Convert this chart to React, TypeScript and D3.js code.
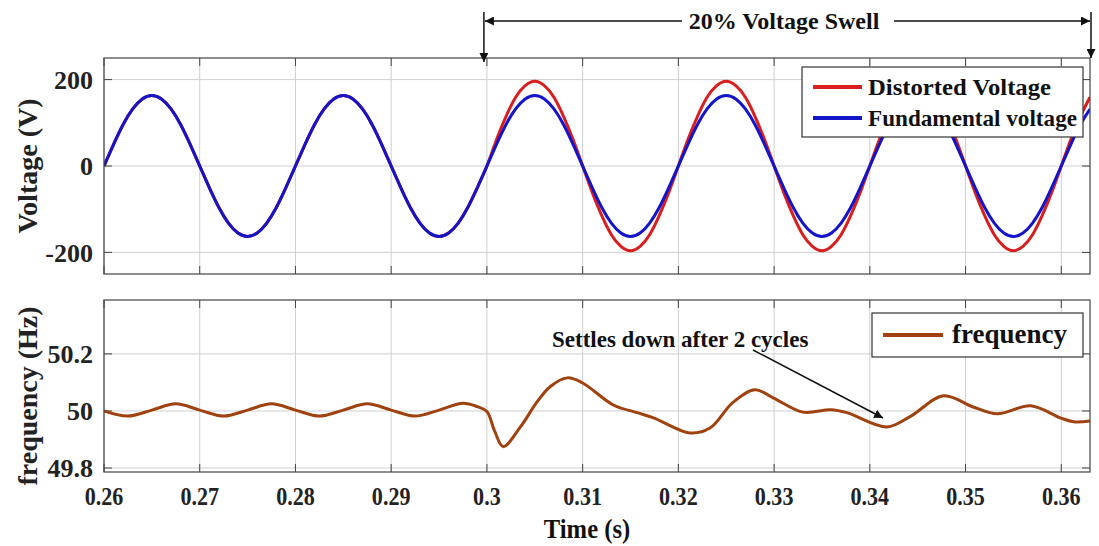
import React from 'react';
import * as d3 from 'd3';

// ---------- data ----------
const timeStart = 0.26;
const timeStep = 0.001;

// Fundamental voltage (V), sampled every 1 ms from 0.260 s
const fundamentalVoltage = [
  0, 50, 96, 132, 155, 163, 155, 132, 96, 50, 0, -50, -96, -132, -155, -163, -155, -132, -96, -50,
  0, 50, 96, 132, 155, 163, 155, 132, 96, 50, 0, -50, -96, -132, -155, -163, -155, -132, -96, -50,
  0, 50, 96, 132, 155, 163, 155, 132, 96, 50, 0, -50, -96, -132, -155, -163, -155, -132, -96, -50,
  0, 50, 96, 132, 155, 163, 155, 132, 96, 50, 0, -50, -96, -132, -155, -163, -155, -132, -96, -50,
  0, 50, 96, 132, 155, 163, 155, 132, 96, 50, 0, -50, -96, -132, -155, -163, -155, -132, -96, -50,
  0, 50, 96, 132,
];

// Distorted voltage (V), sampled every 1 ms from 0.260 s (swell from 0.30 s)
const distortedVoltage = [
  0, 50, 96, 132, 155, 163, 155, 132, 96, 50, 0, -50, -96, -132, -155, -163, -155, -132, -96, -50,
  0, 50, 96, 132, 155, 163, 155, 132, 96, 50, 0, -50, -96, -132, -155, -163, -155, -132, -96, -50,
  0, 61, 115, 159, 186, 196, 186, 159, 115, 61, 0, -61, -115, -159, -186, -196, -186, -159, -115, -61,
  0, 61, 115, 159, 186, 196, 186, 159, 115, 61, 0, -61, -115, -159, -186, -196, -186, -159, -115, -61,
  0, 61, 115, 159, 186, 196, 186, 159, 115, 61, 0, -61, -115, -159, -186, -196, -186, -159, -115, -61,
  0, 61, 115, 159,
];

const freqTime = [
  0.26, 0.2625, 0.265, 0.2675, 0.27, 0.2725, 0.275, 0.2775, 0.28, 0.2825, 0.285, 0.2875, 0.29,
  0.2925, 0.295, 0.2975, 0.299, 0.3, 0.3008, 0.3017, 0.3035, 0.3052, 0.3066, 0.3084, 0.31,
  0.3132, 0.3157, 0.3174, 0.3212, 0.3233, 0.3257, 0.328, 0.3299, 0.333, 0.3359, 0.3376, 0.3418,
  0.3442, 0.3477, 0.3508, 0.3533, 0.3568, 0.3599, 0.3613, 0.363,
];
const freqValue = [
  50.0, 49.982, 50.003, 50.025, 50.003, 49.982, 50.003, 50.025, 50.003, 49.982, 50.003, 50.025, 50.003,
  49.982, 50.003, 50.027, 50.015, 49.998, 49.93, 49.875, 49.944, 50.03, 50.085, 50.116, 50.098,
  50.021, 49.994, 49.976, 49.923, 49.94, 50.03, 50.074, 50.046, 49.996, 50.004, 49.994, 49.944,
  49.98, 50.053, 50.014, 49.99, 50.018, 49.976, 49.962, 49.965,
];

const xTicks = [0.26, 0.27, 0.28, 0.29, 0.3, 0.31, 0.32, 0.33, 0.34, 0.35, 0.36];
const xTickLabels = ['0.26', '0.27', '0.28', '0.29', '0.3', '0.31', '0.32', '0.33', '0.34', '0.35', '0.36'];
const voltTicks = [-200, 0, 200];
const voltTickLabels = ['-200', '0', '200'];
const freqTicks = [49.8, 50, 50.2];
const freqTickLabels = ['49.8', '50', '50.2'];

// ---------- styles ----------
const FONT = '"Liberation Serif", "Times New Roman", serif';
const RED = '#d81e1e';
const BLUE = '#1414c8';
const BROWN = '#a0420f';
const GRID = '#cfcfcf';
const AXIS = '#444';

const W = 1099;
const H = 546;
const L = 104;
const R = 1090;
const T1 = 58;
const B1 = 274;
const T2 = 300;
const B2 = 472;

export default function App() {
  const x = d3.scaleLinear().domain([0.26, 0.363]).range([L, R]);
  const yV = d3.scaleLinear().domain([-250, 250]).range([B1, T1]);
  const yF = d3.scaleLinear().domain([49.786, 50.389]).range([B2, T2]);

  const tOf = (i: number) => timeStart + i * timeStep;
  const vLine = d3
    .line<number>()
    .x((_, i) => x(tOf(i)))
    .y((d) => yV(d))
    .curve(d3.curveNatural);
  const fLine = d3
    .line<number>()
    .x((_, i) => x(freqTime[i]))
    .y((d) => yF(d))
    .curve(d3.curveCatmullRom.alpha(0.5));

  const panel = (top: number, bottom: number, yScale: any, ticks: number[], labels: string[]) => (
    <g>
      {xTicks.map((t) => (
        <line key={'gx' + t} x1={x(t)} x2={x(t)} y1={top} y2={bottom} stroke={GRID} strokeWidth={1} />
      ))}
      {ticks.map((v) => (
        <line key={'gy' + v} x1={L} x2={R} y1={yScale(v)} y2={yScale(v)} stroke={GRID} strokeWidth={1} />
      ))}
      {xTicks.map((t) => (
        <g key={'tx' + t}>
          <line x1={x(t)} x2={x(t)} y1={bottom} y2={bottom - 8} stroke={AXIS} strokeWidth={1} />
          <line x1={x(t)} x2={x(t)} y1={top} y2={top + 8} stroke={AXIS} strokeWidth={1} />
        </g>
      ))}
      {ticks.map((v, i) => (
        <g key={'ty' + v}>
          <line x1={L} x2={L + 8} y1={yScale(v)} y2={yScale(v)} stroke={AXIS} strokeWidth={1} />
          <line x1={R} x2={R - 8} y1={yScale(v)} y2={yScale(v)} stroke={AXIS} strokeWidth={1} />
          <text
            x={93}
            y={yScale(v)}
            dy="0.35em"
            textAnchor="end"
            fontFamily={FONT}
            fontWeight="bold"
            fontSize={26}
            fill="#222"
          >
            {labels[i]}
          </text>
        </g>
      ))}
    </g>
  );

  const swellY = 21;
  const leftArrowX = x(0.3) - 3;
  const rightArrowX = R + 1;

  return (
    <svg
      width={W}
      height={H}
      viewBox={`0 0 ${W} ${H}`}
      style={{ position: 'absolute', left: 0, top: 0, background: '#fff' }}
    >
      <defs>
        <clipPath id="clipTop">
          <rect x={L} y={T1} width={R - L} height={B1 - T1} />
        </clipPath>
        <clipPath id="clipBot">
          <rect x={L} y={T2} width={R - L} height={B2 - T2} />
        </clipPath>
        <marker id="ah" viewBox="0 0 10 10" refX="10" refY="5" markerWidth="6" markerHeight="6" orient="auto-start-reverse">
          <path d="M0,0 L10,5 L0,10 z" fill="#111" />
        </marker>
      </defs>

      <rect x={0} y={0} width={W} height={H} fill="#fff" />

      {/* ---------- top panel ---------- */}
      {panel(T1, B1, yV, voltTicks, voltTickLabels)}
      <g clipPath="url(#clipTop)">
        <path d={vLine(distortedVoltage) || ''} fill="none" stroke={RED} strokeWidth={3} />
        <path d={vLine(fundamentalVoltage) || ''} fill="none" stroke={BLUE} strokeWidth={3} />
      </g>
      <rect x={L} y={T1} width={R - L} height={B1 - T1} fill="none" stroke={AXIS} strokeWidth={1.2} />

      {/* top legend */}
      <rect x={802} y={67} width={281} height={70} fill="#fff" stroke="#333" strokeWidth={1.2} />
      <line x1={813} x2={862} y1={87} y2={87} stroke={RED} strokeWidth={4} />
      <line x1={813} x2={862} y1={118} y2={118} stroke={BLUE} strokeWidth={4} />
      <text x={868} y={95} fontFamily={FONT} fontWeight="bold" fontSize={24} fill="#111" textLength={183} lengthAdjust="spacingAndGlyphs">
        Distorted Voltage
      </text>
      <text x={868} y={126} fontFamily={FONT} fontWeight="bold" fontSize={24} fill="#111" textLength={209} lengthAdjust="spacingAndGlyphs">
        Fundamental voltage
      </text>

      <text
        transform={`translate(37,${(T1 + B1) / 2}) rotate(-90)`}
        textAnchor="middle"
        fontFamily={FONT}
        fontWeight="bold"
        fontSize={28}
        fill="#222"
      >
        Voltage (V)
      </text>

      {/* swell annotation */}
      <line x1={leftArrowX} x2={leftArrowX} y1={12} y2={62} stroke="#111" strokeWidth={1.5} markerEnd="url(#ah)" />
      <line x1={rightArrowX} x2={rightArrowX} y1={12} y2={58} stroke="#111" strokeWidth={1.5} markerEnd="url(#ah)" />
      <line x1={682} x2={leftArrowX + 1} y1={swellY} y2={swellY} stroke="#111" strokeWidth={1.5} markerEnd="url(#ah)" />
      <line x1={894} x2={rightArrowX - 1} y1={swellY} y2={swellY} stroke="#111" strokeWidth={1.5} markerEnd="url(#ah)" />
      <text x={784} y={swellY + 8} textAnchor="middle" fontFamily={FONT} fontWeight="bold" fontSize={24} fill="#111">
        20% Voltage Swell
      </text>

      {/* ---------- bottom panel ---------- */}
      {panel(T2, B2, yF, freqTicks, freqTickLabels)}
      <g clipPath="url(#clipBot)">
        <path d={fLine(freqValue) || ''} fill="none" stroke={BROWN} strokeWidth={3} />
      </g>
      <rect x={L} y={T2} width={R - L} height={B2 - T2} fill="none" stroke={AXIS} strokeWidth={1.2} />

      {/* bottom legend */}
      <rect x={872} y={313} width={211} height={44} fill="#fff" stroke="#333" strokeWidth={1.2} />
      <line x1={883} x2={943} y1={335} y2={335} stroke={BROWN} strokeWidth={4} />
      <text x={952} y={343} fontFamily={FONT} fontWeight="bold" fontSize={27} fill="#111">
        frequency
      </text>

      {/* settle annotation */}
      <text x={552} y={347} fontFamily={FONT} fontWeight="bold" fontSize={23} fill="#111">
        Settles down after 2 cycles
      </text>
      <line x1={753} y1={350} x2={883} y2={418} stroke="#111" strokeWidth={1.5} markerEnd="url(#ah)" />

      <text
        transform={`translate(37,${(T2 + B2) / 2 + 10}) rotate(-90)`}
        textAnchor="middle"
        fontFamily={FONT}
        fontWeight="bold"
        fontSize={28}
        fill="#222"
      >
        frequency (Hz)
      </text>

      {/* x tick labels */}
      {xTicks.map((t, i) => (
        <text
          key={'xl' + t}
          transform={`translate(${x(t)},505) scale(0.85,1)`}
          textAnchor="middle"
          fontFamily={FONT}
          fontWeight="bold"
          fontSize={26}
          fill="#222"
        >
          {xTickLabels[i]}
        </text>
      ))}
      <text
        transform="translate(587,538) scale(0.88,1)"
        textAnchor="middle"
        fontFamily={FONT}
        fontWeight="bold"
        fontSize={28}
        fill="#111"
      >
        Time (s)
      </text>
    </svg>
  );
}
